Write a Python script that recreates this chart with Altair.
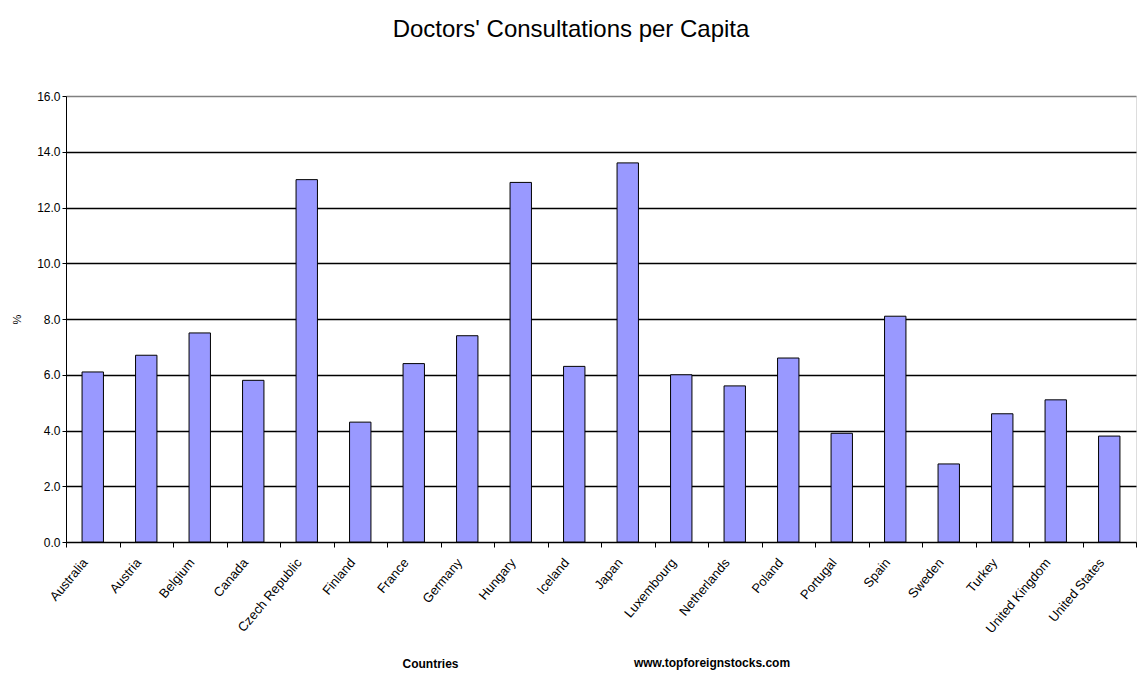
import altair as alt
import pandas as pd

countries = ["Australia", "Austria", "Belgium", "Canada", "Czech Republic", "Finland",
             "France", "Germany", "Hungary", "Iceland", "Japan", "Luxembourg",
             "Netherlands", "Poland", "Portugal", "Spain", "Sweden", "Turkey",
             "United Kingdom", "United States"]
values = [6.1, 6.7, 7.5, 5.8, 13.0, 4.3, 6.4, 7.4, 12.9, 6.3, 13.6, 6.0,
          5.6, 6.6, 3.9, 8.1, 2.8, 4.6, 5.1, 3.8]
y_ticks = [0, 2, 4, 6, 8, 10, 12, 14, 16]

df = pd.DataFrame({"country": countries, "value": values})

FONT = "Liberation Sans"
W, H = 1070, 446

bars = alt.Chart(df).mark_bar(
    color="#9999FF", stroke="black", strokeWidth=1, width=alt.RelativeBandSize(0.4)
).encode(
    x=alt.X("country:N", sort=None,
            scale=alt.Scale(paddingInner=0, paddingOuter=0),
            axis=alt.Axis(title="Countries", labelAngle=-50, labelAlign="right",
                          labelBaseline="middle", labelFont=FONT, labelFontSize=13,
                          labelColor="black", labelPadding=13, labelOffset=-8,
                          tickBand="extent",
                          tickColor="black", tickSize=5, domainColor="black",
                          titleFont=FONT, titleFontSize=12, titleFontWeight="bold",
                          titleColor="black", titleX=364, titleY=125,
                          titleAlign="center", titleBaseline="alphabetic")),
    y=alt.Y("value:Q", scale=alt.Scale(domain=[0, 16]),
            axis=alt.Axis(title="%", values=y_ticks, format=".1f",
                          labelFont=FONT, labelFontSize=12, labelColor="black",
                          tickColor="black", tickSize=4, domainColor="black",
                          gridColor={"condition": {"test": "datum.value === 16", "value": "#808080"},
                                     "value": "black"},
                          gridWidth=1.3,
                          titleFont=FONT, titleFontSize=11, titleFontWeight="normal",
                          titleColor="black", titlePadding=14)),
)

site = alt.Chart(pd.DataFrame({"t": ["www.topforeignstocks.com"]})).mark_text(
    font=FONT, fontSize=12, fontWeight="bold", color="black", baseline="alphabetic"
).encode(
    text="t:N", x=alt.value(646), y=alt.value(571)
)

chart = alt.layer(bars, site).properties(
    width=W, height=H,
    title=alt.TitleParams("Doctors' Consultations per Capita", font=FONT, fontSize=24,
                          fontWeight="normal", color="black", anchor="middle",
                          offset=48, dx=-30),
    autosize=alt.AutoSizeParams(type="none"),
    padding={"left": 66, "top": 96, "right": 1, "bottom": 131},
).configure_view(
    fill="#C0C0C0", stroke="#808080", strokeWidth=1
).configure(background="white")

chart.save("out.html", embed_options={"renderer": "svg", "actions": False})
